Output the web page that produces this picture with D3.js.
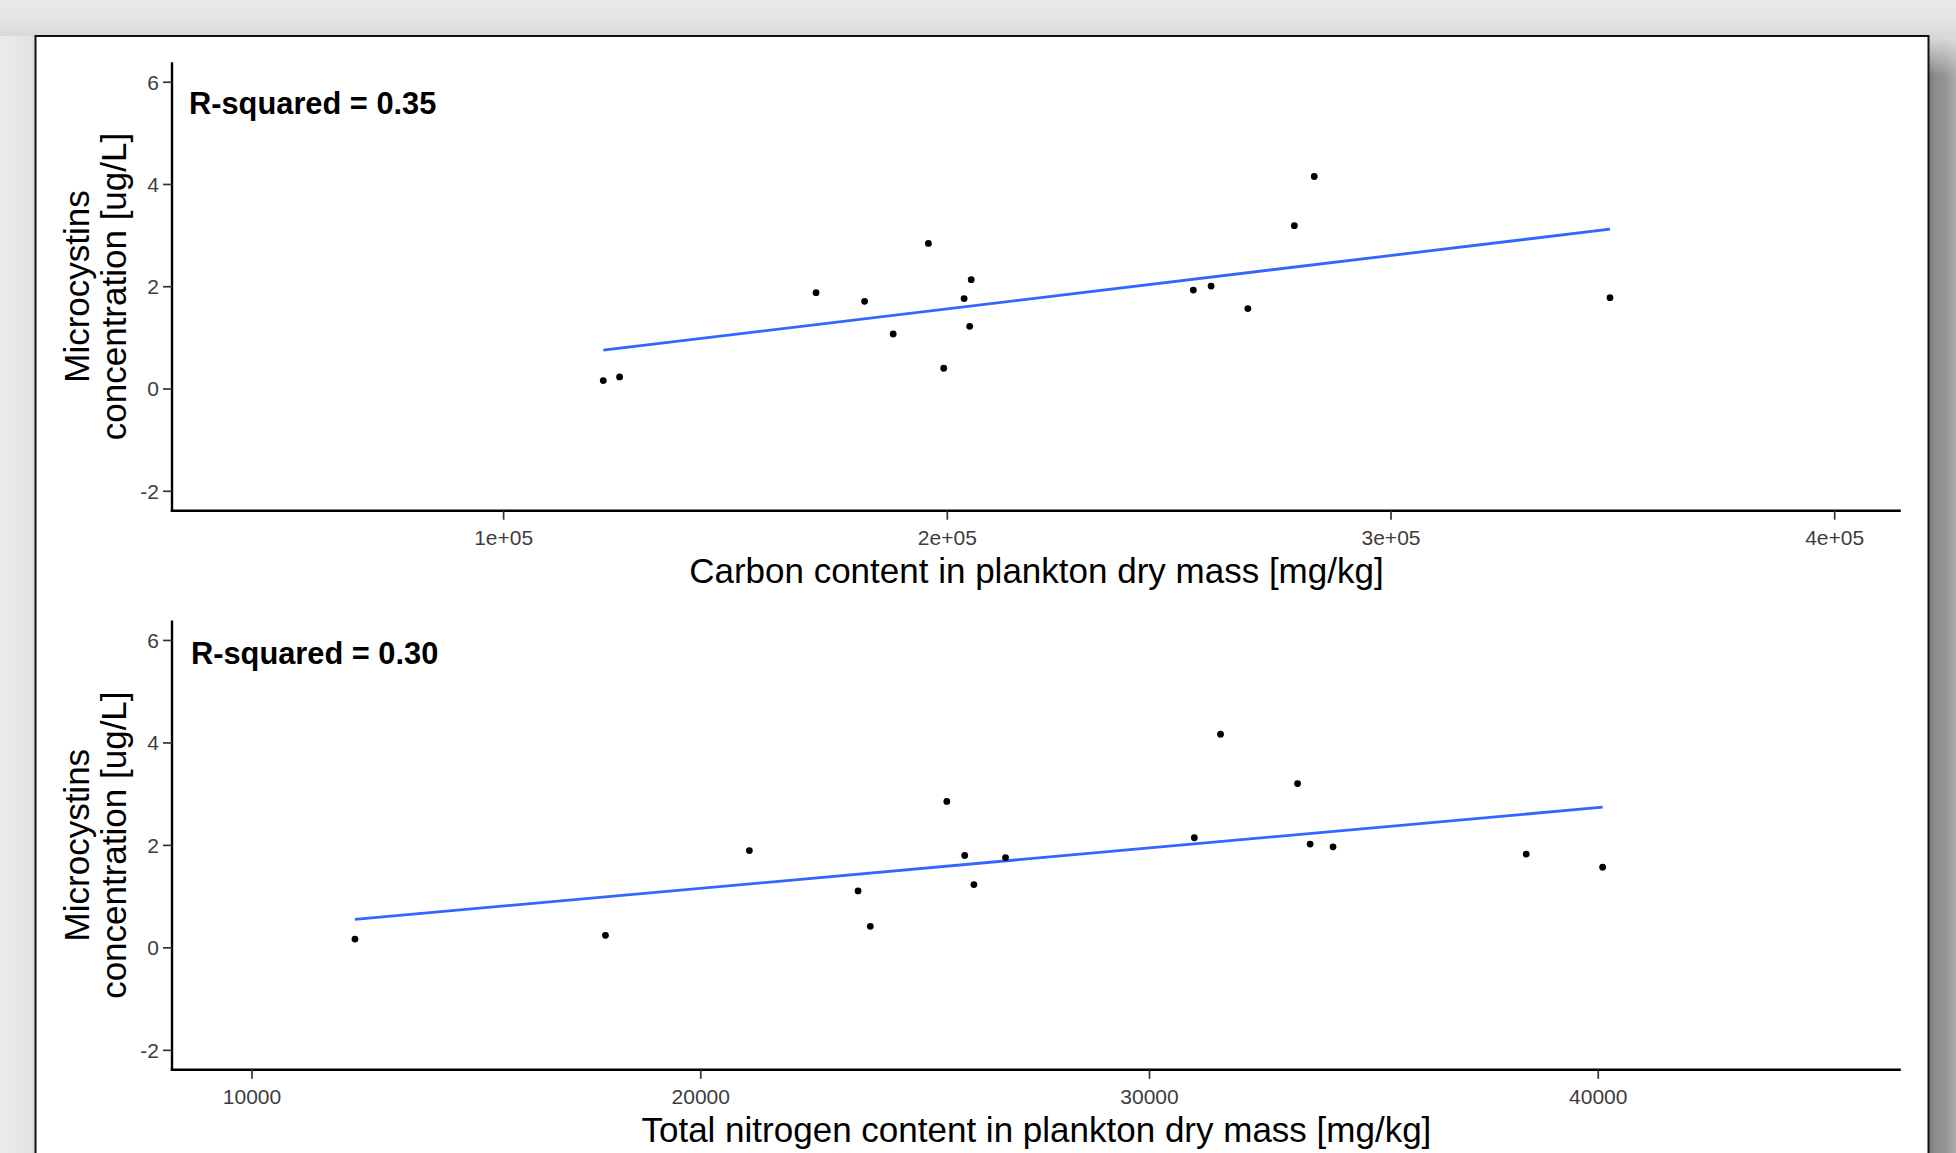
<!DOCTYPE html>
<html><head><meta charset="utf-8">
<script src="https://cdn.jsdelivr.net/npm/d3@7"></script>
<style>
html,body{margin:0;padding:0;background:#e8e8e8;overflow:hidden;}
svg{display:block;}
</style></head><body>
<svg id="chart" width="1956" height="1153"></svg>
<script>
// ---------------- data ----------------
const carbon = [122570,126250,170530,181470,187910,195850,199300,203900,205500,205160,255560,259570,267850,278330,282820,349470];
const microcystinsCarbon = [0.156,0.227,1.875,1.705,1.066,2.838,0.396,1.758,2.129,1.217,1.926,2.004,1.563,3.184,4.146,1.777];
const nitrogen = [12305,17887,21094,23517,23789,25494,25893,26098,26802,31010,31594,33310,33590,34101,38406,40109];
const microcystinsNitrogen = [0.162,0.235,1.890,1.102,0.411,2.849,1.793,1.225,1.753,2.139,4.160,3.196,2.016,1.963,1.820,1.566];
const carbonTicks = [100000,200000,300000,400000];
const carbonTickLabels = ["1e+05","2e+05","3e+05","4e+05"];
const nitrogenTicks = [10000,20000,30000,40000];
const nitrogenTickLabels = ["10000","20000","30000","40000"];
const yTicks = [-2,0,2,4,6];
const yTickLabels = ["-2","0","2","4","6"];
const rsqLabels = ["R-squared = 0.35","R-squared = 0.30"];
const xTitles = ["Carbon content in plankton dry mass [mg/kg]","Total nitrogen content in plankton dry mass [mg/kg]"];
const yTitleLines = ["Microcystins","concentration [ug/L]"];

// ---------------- layout ----------------
const FONT = "'Liberation Sans', Arial, sans-serif";
const svg = d3.select("#chart");
const defs = svg.append("defs");

const gTop = defs.append("linearGradient").attr("id","gTop").attr("x1",0).attr("x2",0).attr("y1",0).attr("y2",1);
gTop.append("stop").attr("offset","0%").attr("stop-color","#e9e9e9");
gTop.append("stop").attr("offset","55%").attr("stop-color","#e4e4e4");
gTop.append("stop").attr("offset","100%").attr("stop-color","#d8d8d8");
const gLeft = defs.append("linearGradient").attr("id","gLeft").attr("x1",0).attr("x2",1).attr("y1",0).attr("y2",0);
gLeft.append("stop").attr("offset","0%").attr("stop-color","#ececec");
gLeft.append("stop").attr("offset","100%").attr("stop-color","#e0e0e0");
const gRight = defs.append("linearGradient").attr("id","gRight").attr("x1",0).attr("x2",1).attr("y1",0).attr("y2",0);
gRight.append("stop").attr("offset","0%").attr("stop-color","#7a7a7a");
gRight.append("stop").attr("offset","25%").attr("stop-color","#8c8c8c");
gRight.append("stop").attr("offset","55%").attr("stop-color","#939393");
gRight.append("stop").attr("offset","100%").attr("stop-color","#ababab");
const gFade = defs.append("linearGradient").attr("id","gFade").attr("x1",0).attr("x2",0).attr("y1",0).attr("y2",1);
gFade.append("stop").attr("offset","0%").attr("stop-color","#dcdcdc").attr("stop-opacity",1);
gFade.append("stop").attr("offset","100%").attr("stop-color","#dcdcdc").attr("stop-opacity",0);

svg.append("rect").attr("x",0).attr("y",0).attr("width",1956).attr("height",36).attr("fill","url(#gTop)");
svg.append("rect").attr("x",0).attr("y",36).attr("width",35).attr("height",1117).attr("fill","url(#gLeft)");
svg.append("rect").attr("x",1929).attr("y",36).attr("width",27).attr("height",1117).attr("fill","url(#gRight)");
svg.append("rect").attr("x",1929).attr("y",36).attr("width",27).attr("height",40).attr("fill","url(#gFade)");
svg.append("rect").attr("x",35.5).attr("y",36).attr("width",1893).attr("height",1140)
  .attr("fill","#fff").attr("stroke","#111").attr("stroke-width",2);

const panels = [
  {xs: carbon, ys: microcystinsCarbon, xDomain:[25366,415017], top:62.3, bottom:510.7,
   xTicks: carbonTicks, xTickLabels: carbonTickLabels, rsq: rsqLabels[0], title: xTitles[0],
   ann:{x:29200, y:5.59}},
  {xs: nitrogen, ys: microcystinsNitrogen, xDomain:[8228,46753], top:620.5, bottom:1069.8,
   xTicks: nitrogenTicks, xTickLabels: nitrogenTickLabels, rsq: rsqLabels[1], title: xTitles[1],
   ann:{x:8651, y:5.75}}
];
const left = 172, right = 1900.8;
const yDomain = [-2.39, 6.38];

function linreg(xs, ys){
  const mx = d3.mean(xs), my = d3.mean(ys);
  let sxy = 0, sxx = 0;
  xs.forEach((x,i)=>{ sxy += (x-mx)*(ys[i]-my); sxx += (x-mx)*(x-mx); });
  const b = sxy/sxx;
  return {b, a: my - b*mx};
}

panels.forEach(p => {
  const x = d3.scaleLinear().domain(p.xDomain).range([left, right]);
  const y = d3.scaleLinear().domain(yDomain).range([p.bottom, p.top]);
  const g = svg.append("g");

  const fit = linreg(p.xs, p.ys);
  const ext = d3.extent(p.xs);
  const line = d3.line().x(d => x(d)).y(d => y(fit.a + fit.b*d));
  g.append("path").datum(ext).attr("d", line)
    .attr("fill","none").attr("stroke","#3366FF").attr("stroke-width",2.8);

  g.selectAll("circle.pt").data(p.xs.map((v,i)=>[v,p.ys[i]])).join("circle")
    .attr("class","pt").attr("cx", d => x(d[0])).attr("cy", d => y(d[1]))
    .attr("r",3.4).attr("fill","#000");

  const xa = g.append("g").attr("transform",`translate(0,${p.bottom})`)
    .call(d3.axisBottom(x).tickValues(p.xTicks).tickFormat((d,i)=>p.xTickLabels[i]).tickSizeOuter(0).tickSize(9));
  const ya = g.append("g").attr("transform",`translate(${left},0)`)
    .call(d3.axisLeft(y).tickValues(yTicks).tickFormat((d,i)=>yTickLabels[i]).tickSizeOuter(0).tickSize(9).tickPadding(4));
  [xa, ya].forEach(a => {
    a.select(".domain").attr("stroke","#000").attr("stroke-width",2.4);
    a.selectAll(".tick line").attr("stroke","#333").attr("stroke-width",1.7);
    a.selectAll(".tick text").attr("fill","#3d3d3d").style("font-family",FONT).style("font-size","21px");
  });
  xa.select(".domain").attr("d",`M${left-1.2},0H${right}`);
  ya.select(".domain").attr("d",`M0,${p.top}V${p.bottom+1.2}`);
  xa.selectAll(".tick text").attr("y",19.5).attr("dy","0.71em");
  ya.selectAll(".tick text").attr("dy","0.35em");

  g.append("text").attr("x", x(p.ann.x)).attr("y", y(p.ann.y)).attr("dy","0.36em")
    .style("font-family",FONT).style("font-size","30.8px").style("font-weight","bold")
    .attr("fill","#000").text(p.rsq);

  g.append("text").attr("x",(left+right)/2).attr("y",p.bottom+72)
    .attr("text-anchor","middle").style("font-family",FONT).style("font-size","35px")
    .attr("fill","#000").text(p.title);

  const cy = (p.top + p.bottom)/2;
  [89, 126].forEach((bx,i) => {
    g.append("text").attr("transform",`translate(${bx},${cy}) rotate(-90)`)
      .attr("text-anchor","middle").style("font-family",FONT).style("font-size","35px")
      .attr("fill","#000").text(yTitleLines[i]);
  });
});
</script>
</body></html>
